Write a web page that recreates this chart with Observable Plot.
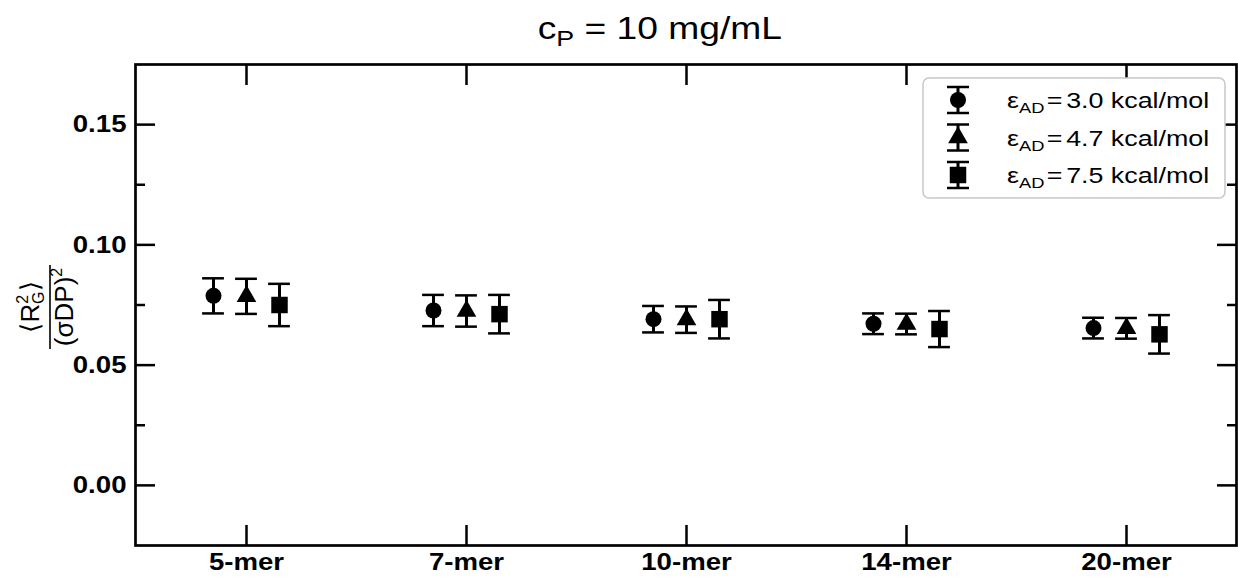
<!DOCTYPE html>
<html><head><meta charset="utf-8">
<script src="https://cdn.jsdelivr.net/npm/d3@7"></script>
<script src="https://cdn.jsdelivr.net/npm/@observablehq/plot@0.6"></script>
<style>
html,body{margin:0;padding:0;background:#fff;}
body{font-family:"Liberation Sans",Arial,sans-serif;width:1238px;height:581px;position:relative;overflow:hidden;}
#title{position:absolute;left:0;top:0;width:1238px;height:56px;text-align:center;font-size:31px;line-height:58px;padding-left:82px;box-sizing:border-box;color:#000;}
#title span{display:inline-block;transform:scaleX(1.2);transform-origin:center;}
#title sub{font-size:0.72em;vertical-align:-0.3em;line-height:0;}
#chart{position:absolute;left:0;top:56px;}
</style></head><body>
<div id="title"><span>c<sub>P</sub> = 10 mg/mL</span></div>
<div id="chart"></div>
<script>
// ---- data ----
const categories = ["5-mer", "7-mer", "10-mer", "14-mer", "20-mer"];
const mean30 = [0.0788, 0.0727, 0.0691, 0.0672, 0.0654];
const err30  = [0.0073, 0.0065, 0.0055, 0.0043, 0.0043];
const mean47 = [0.0786, 0.0725, 0.0689, 0.0671, 0.0653];
const err47  = [0.0073, 0.0065, 0.0055, 0.0043, 0.0043];
const mean75 = [0.0750, 0.0712, 0.0691, 0.0650, 0.0628];
const err75  = [0.0088, 0.0080, 0.0080, 0.0075, 0.0080];
const seriesLabels = ["3.0", "4.7", "7.5"];
const majorTicks = [0.00, 0.05, 0.10, 0.15];
const minorTicks = [0.025, 0.075, 0.125];

// ---- build ----
const series = [
  {label: seriesLabels[0], mean: mean30, err: err30, symbol: "circle",   r: 8,   dx: -33},
  {label: seriesLabels[1], mean: mean47, err: err47, symbol: "triangle", r: 7.3, dx: 0},
  {label: seriesLabels[2], mean: mean75, err: err75, symbol: "square",   r: 9.3, dx: 33}
];
const rowsOf = s => categories.map((c, i) => ({cat: c, m: s.mean[i], lo: s.mean[i] - s.err[i], hi: s.mean[i] + s.err[i]}));

const W = 1238, H = 525, ML = 135, MR = 2, MT = 8, MB = 36;
const bw = (W - ML - MR) / categories.length;
const capHalf = 11;
const FONT = "Liberation Sans, Arial, sans-serif";

const marks = [];
for (const s of series) {
  const d = rowsOf(s);
  marks.push(Plot.ruleX(d, {x: "cat", y1: "lo", y2: "hi", dx: s.dx, stroke: "black", strokeWidth: 3}));
  marks.push(Plot.tickY(d, {x: "cat", y: "lo", dx: s.dx, insetLeft: bw/2 - capHalf, insetRight: bw/2 - capHalf, stroke: "black", strokeWidth: 2.5}));
  marks.push(Plot.tickY(d, {x: "cat", y: "hi", dx: s.dx, insetLeft: bw/2 - capHalf, insetRight: bw/2 - capHalf, stroke: "black", strokeWidth: 2.5}));
  marks.push(Plot.dot(d, {x: "cat", y: "m", dx: s.dx, symbol: s.symbol, r: s.r, fill: "black", stroke: "none"}));
}
const fmt = d3.format(".2f");
marks.push(
  Plot.frame({stroke: "black", strokeWidth: 2.7}),
  Plot.axisX({anchor: "bottom", tickSize: 0, tickPadding: 7, fontSize: 24, fontWeight: "bold", label: null}),
  Plot.axisX({anchor: "bottom", tickSize: -20, tickFormat: () => "", strokeWidth: 2.5, label: null}),
  Plot.axisX({anchor: "top", tickSize: -20, tickFormat: () => "", strokeWidth: 2.5, label: null}),
  Plot.axisY({anchor: "left", ticks: majorTicks, tickSize: 0, tickPadding: 9, tickFormat: fmt, fontSize: 24, fontWeight: "bold", label: null}),
  Plot.axisY({anchor: "left", ticks: majorTicks, tickSize: -20, tickFormat: () => "", strokeWidth: 2.5, label: null}),
  Plot.axisY({anchor: "left", ticks: minorTicks, tickSize: -10, tickFormat: () => "", strokeWidth: 2.5, label: null}),
  Plot.axisY({anchor: "right", ticks: majorTicks, tickSize: -20, tickFormat: () => "", strokeWidth: 2.5, label: null}),
  Plot.axisY({anchor: "right", ticks: minorTicks, tickSize: -10, tickFormat: () => "", strokeWidth: 2.5, label: null})
);

const plot = Plot.plot({
  width: W, height: H, marginTop: MT, marginBottom: MB, marginLeft: ML, marginRight: MR,
  x: {type: "band", domain: categories, padding: 0, axis: null},
  y: {domain: [-0.025, 0.175], axis: null},
  style: {fontFamily: FONT, background: "white", color: "black", overflow: "visible"},
  marks
});
document.getElementById("chart").appendChild(plot);

// widen axis tick labels slightly (reference lettering is horizontally wide)
const SX = 1.15;
plot.querySelectorAll("g[aria-label*='tick label'] text").forEach(el => {
  const tr = el.getAttribute("transform");
  if (tr && tr.includes("translate")) {
    el.setAttribute("transform", tr + ` scale(${SX},1)`);
  } else {
    const x = +(el.getAttribute("x") || 0), y = +(el.getAttribute("y") || 0);
    el.removeAttribute("x"); el.removeAttribute("y");
    el.setAttribute("transform", `${tr || ""} translate(${x},${y}) scale(${SX},1)`);
  }
});

const svg = d3.select(plot);

// ---- y-axis label (fraction) ----
const yl = svg.append("g").attr("transform", `translate(50,${307 - 56}) rotate(-90)`)
  .attr("font-family", FONT).attr("fill", "black");
const num = yl.append("text").attr("text-anchor", "middle").attr("y", -11).attr("font-size", 26);
num.append("tspan").text("\u27E8R");
num.append("tspan").attr("font-size", 16).attr("dy", -11).text("2");
num.append("tspan").attr("font-size", 16).attr("dx", -9).attr("dy", 16).text("G");
num.append("tspan").attr("dy", -5).text("\u27E9");
yl.append("line").attr("x1", -42).attr("x2", 42).attr("y1", 0).attr("y2", 0).attr("stroke", "black").attr("stroke-width", 1.6);
const den = yl.append("text").attr("text-anchor", "middle").attr("y", 23).attr("font-size", 26);
den.append("tspan").text("(\u03C3DP)");
den.append("tspan").attr("font-size", 16).attr("dy", -11).text("2");

// ---- legend ----
const lg = svg.append("g").attr("transform", `translate(923,${78 - 56})`);
lg.append("rect").attr("x", 0).attr("y", 0).attr("width", 302).attr("height", 120).attr("rx", 6)
  .attr("fill", "white").attr("stroke", "#c8c8c8").attr("stroke-width", 1.5);
const symMap = {circle: d3.symbolCircle, triangle: d3.symbolTriangle, square: d3.symbolSquare};
series.forEach((s, i) => {
  const cy = 22 + i * 37.5, cx = 35;
  const g = lg.append("g").attr("transform", `translate(${cx},${cy})`);
  g.append("line").attr("y1", -13).attr("y2", 13).attr("stroke", "black").attr("stroke-width", 3);
  g.append("line").attr("x1", -11).attr("x2", 11).attr("y1", -13).attr("y2", -13).attr("stroke", "black").attr("stroke-width", 2.5);
  g.append("line").attr("x1", -11).attr("x2", 11).attr("y1", 13).attr("y2", 13).attr("stroke", "black").attr("stroke-width", 2.5);
  g.append("path").attr("d", d3.symbol(symMap[s.symbol], Math.PI * s.r * s.r)()).attr("fill", "black");
  const t = lg.append("text").attr("transform", `translate(84,${cy + 8}) scale(1.22,1)`)
    .attr("text-anchor", "start").attr("font-size", 22)
    .attr("font-family", FONT).attr("fill", "black");
  t.append("tspan").text("\u03B5");
  t.append("tspan").attr("font-size", 15).attr("dy", 5).text("AD");
  t.append("tspan").attr("dy", -5).attr("dx", 2).text("=");
  t.append("tspan").attr("dx", 3).text(`${s.label} kcal/mol`);
});
</script>
</body></html>
